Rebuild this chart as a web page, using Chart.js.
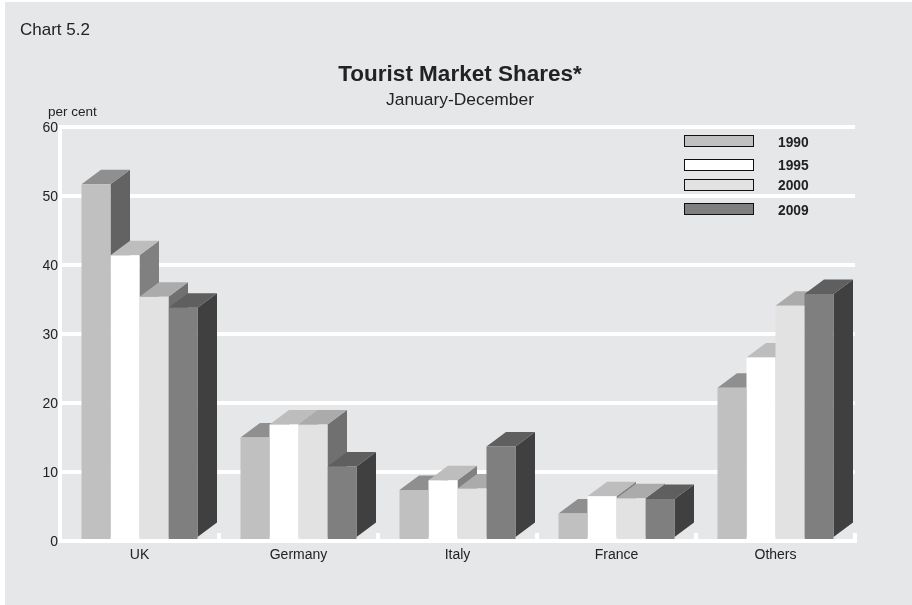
<!DOCTYPE html>
<html>
<head>
<meta charset="utf-8">
<title>Tourist Market Shares</title>
<style>
  html, body { margin: 0; padding: 0; background: #fff; }
  #wrap { position: absolute; left: 0; top: 0; width: 912px; height: 605px; }
</style>
<script src="https://cdn.jsdelivr.net/npm/chart.js@4"></script>
</head>
<body>
<div id="wrap"><canvas id="chart" width="912" height="605"></canvas></div>
<script>
// Data
const categories = ['UK', 'Germany', 'Italy', 'France', 'Others'];
const seriesNames = ['1990', '1995', '2000', '2009'];
const values1990 = [51.7, 15.0, 7.4, 4.0, 22.2];
const values1995 = [41.4, 16.9, 8.8, 6.5, 26.6];
const values2000 = [35.4, 16.9, 7.6, 6.2, 34.1];
const values2009 = [33.8, 10.8, 13.7, 6.1, 35.8];
const yTicks = [0, 10, 20, 30, 40, 50, 60];

// Colours, per series
const FRONT = ['#c0c0c0', '#ffffff', '#e2e2e2', '#7f7f7f'];
const TOP = ['#8f8f8f', '#bdbdbd', '#ababab', '#5f5f5f'];
const SIDE = ['#636363', '#808080', '#707070', '#404040'];
const PANEL = '#e6e7e9';
const FONT = '"Liberation Sans", Arial, sans-serif';
const INK = '#222222';

// Depth of the fake 3D
const DEPTH_X = 19.5;
const DEPTH_Y = 14.5;

// Legend rows are not evenly spaced in the original
const LEGEND_ROWS = [135, 159, 179, 203];
const LEGEND_TEXT_ROWS = [143, 166, 186, 211];
const LEGEND_HEIGHT = 11;

function poly(ctx, color, pts) {
  ctx.fillStyle = color;
  ctx.beginPath();
  ctx.moveTo(pts[0][0], pts[0][1]);
  pts.slice(1).forEach((p) => ctx.lineTo(p[0], p[1]));
  ctx.closePath();
  ctx.fill();
}

function text(ctx, str, x, y, font, align) {
  ctx.font = font;
  ctx.fillStyle = INK;
  ctx.textAlign = align || 'left';
  ctx.textBaseline = 'middle';
  ctx.fillText(str, x, y);
}

// Grey panel behind everything
const panelPlugin = {
  id: 'panel',
  beforeDraw(chart) {
    const ctx = chart.ctx;
    ctx.save();
    ctx.fillStyle = PANEL;
    ctx.fillRect(5, 2, 907, 603);
    ctx.restore();
  }
};

// Top and side faces, taken from the bar elements
const depthPlugin = {
  id: 'depth',
  beforeDatasetsDraw(chart) {
    const ctx = chart.ctx;
    ctx.save();
    categories.forEach((cat, j) => {
      seriesNames.forEach((name, i) => {
        const bar = chart.getDatasetMeta(i).data[j];
        const l = bar.x - bar.width / 2;
        const r = bar.x + bar.width / 2;
        const y = bar.y;
        const b = bar.base - 2;
        poly(ctx, SIDE[i], [[r, y], [r + DEPTH_X, y - DEPTH_Y], [r + DEPTH_X, b - DEPTH_Y], [r, b]]);
        poly(ctx, TOP[i], [[l, y], [l + DEPTH_X, y - DEPTH_Y], [r + DEPTH_X, y - DEPTH_Y], [r, y]]);
      });
    });
    ctx.restore();
  }
};

// Titles, unit label and the legend box
const labelsPlugin = {
  id: 'labels',
  afterDraw(chart) {
    const ctx = chart.ctx;
    ctx.save();
    text(ctx, 'Chart 5.2', 20, 30, '17px ' + FONT);
    text(ctx, 'Tourist Market Shares*', 460, 75, 'bold 22.5px ' + FONT, 'center');
    text(ctx, 'January-December', 460, 100, '17.4px ' + FONT, 'center');
    text(ctx, 'per cent', 48, 112, '13.5px ' + FONT);

    chart.data.datasets.forEach((ds, i) => {
      const y = LEGEND_ROWS[i];
      ctx.fillStyle = ds.backgroundColor;
      ctx.fillRect(684.5, y + 0.5, 69, LEGEND_HEIGHT);
      ctx.strokeStyle = '#111111';
      ctx.lineWidth = 1;
      ctx.strokeRect(684.5, y + 0.5, 69, LEGEND_HEIGHT);
      text(ctx, ds.label, 778, LEGEND_TEXT_ROWS[i], 'bold 13.8px ' + FONT);
    });
    ctx.restore();
  }
};

const ctx = document.getElementById('chart').getContext('2d');
const chart = new Chart(ctx, {
  type: 'bar',
  data: {
    labels: categories,
    datasets: [values1990, values1995, values2000, values2009].map((values, i) => ({
      label: seriesNames[i],
      data: values,
      backgroundColor: FRONT[i],
      borderWidth: 0
    }))
  },
  plugins: [panelPlugin, depthPlugin, labelsPlugin],
  options: {
    responsive: false,
    animation: false,
    layout: { padding: { left: 0, right: 57, top: 127, bottom: 0 } },
    datasets: { bar: { categoryPercentage: 0.7296, barPercentage: 1 } },
    plugins: {
      legend: { display: false },
      title: { display: false },
      tooltip: { enabled: false }
    },
    scales: {
      x: {
        offset: true,
        afterFit(scale) { scale.height = 64; },
        grid: {
          offset: true,
          drawOnChartArea: false,
          color: '#ffffff',
          lineWidth: 4,
          tickLength: -8
        },
        border: { color: '#ffffff', width: 4, z: 1 },
        ticks: {
          color: INK,
          padding: 14,
          maxRotation: 0,
          font: { family: FONT, size: 14 }
        }
      },
      y: {
        min: 0,
        max: 60,
        afterFit(scale) { scale.width = 60; },
        afterBuildTicks(scale) { scale.ticks = yTicks.map((v) => ({ value: v })); },
        grid: { color: '#ffffff', lineWidth: 4, drawTicks: false },
        border: { color: '#ffffff', width: 4 },
        ticks: {
          color: INK,
          padding: 2,
          labelOffset: 1,
          font: { family: FONT, size: 14 }
        }
      }
    }
  }
});
</script>
</body>
</html>
